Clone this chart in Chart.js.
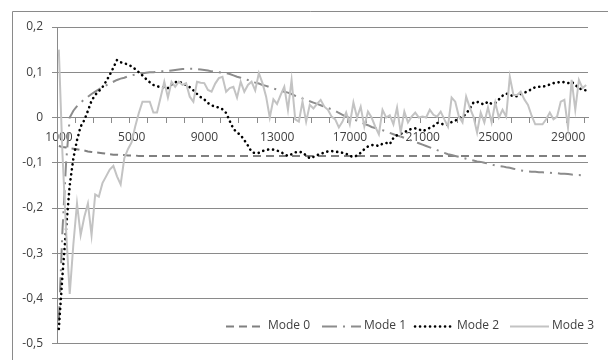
<!DOCTYPE html>
<html><head><meta charset="utf-8">
<script src="https://cdn.jsdelivr.net/npm/chart.js@4"></script>
<style>html,body{margin:0;padding:0;background:#fff;}canvas{display:block;}</style>
</head><body>
<canvas id="c" width="608" height="360"></canvas>
<script>
// categories: 1000 .. 30000 in steps of 200
const categories = [];
for (let v = 1000; v <= 30000; v += 200) categories.push(v);
const xTickLabels = ['1000','5000','9000','13000','17000','21000','25000','29000'];
const seriesNames = ['Mode 0','Mode 1','Mode 2','Mode 3'];

const mode0 = [
-0.063,-0.065,-0.066,-0.068,-0.069,-0.07,-0.072,-0.073,-0.075,-0.076,
-0.077,-0.078,-0.079,-0.08,-0.081,-0.082,-0.082,-0.083,-0.083,-0.084,
-0.084,-0.084,-0.085,-0.085,-0.085,-0.085,-0.085,-0.085,-0.085,-0.085,
-0.085,-0.085,-0.085,-0.085,-0.085,-0.085,-0.085,-0.085,-0.085,-0.085,
-0.085,-0.085,-0.085,-0.085,-0.085,-0.085,-0.085,-0.085,-0.085,-0.085,
-0.085,-0.085,-0.085,-0.085,-0.085,-0.085,-0.085,-0.085,-0.085,-0.085,
-0.085,-0.085,-0.085,-0.085,-0.085,-0.085,-0.085,-0.085,-0.085,-0.085,
-0.085,-0.085,-0.085,-0.085,-0.085,-0.085,-0.085,-0.085,-0.085,-0.085,
-0.085,-0.085,-0.085,-0.085,-0.085,-0.085,-0.085,-0.085,-0.085,-0.085,
-0.085,-0.085,-0.085,-0.085,-0.085,-0.085,-0.085,-0.085,-0.085,-0.085,
-0.085,-0.085,-0.085,-0.085,-0.085,-0.085,-0.085,-0.085,-0.085,-0.085,
-0.085,-0.085,-0.085,-0.085,-0.085,-0.085,-0.085,-0.085,-0.085,-0.085,
-0.085,-0.085,-0.085,-0.085,-0.085,-0.085,-0.085,-0.085,-0.085,-0.085,
-0.085,-0.085,-0.085,-0.085,-0.085,-0.085,-0.085,-0.085,-0.085,-0.085,
-0.085,-0.085,-0.085,-0.085,-0.085,-0.085
];
const mode1 = [
-0.45,-0.25,-0.1,0.0,0.015,0.025,0.033,0.04,0.046,0.052,
0.057,0.062,0.067,0.071,0.075,0.079,0.083,0.086,0.088,0.091,
0.093,0.095,0.097,0.098,0.099,0.1,0.1,0.101,0.102,0.102,
0.103,0.104,0.105,0.106,0.107,0.107,0.108,0.108,0.107,0.106,
0.105,0.104,0.102,0.101,0.1,0.099,0.098,0.096,0.093,0.09,
0.088,0.085,0.083,0.081,0.077,0.075,0.072,0.07,0.067,0.064,
0.062,0.059,0.057,0.055,0.052,0.048,0.045,0.042,0.039,0.036,
0.033,0.03,0.027,0.024,0.021,0.018,0.015,0.01,0.006,0.002,
-0.001,-0.004,-0.007,-0.01,-0.014,-0.017,-0.021,-0.023,-0.026,-0.028,
-0.031,-0.034,-0.037,-0.04,-0.042,-0.045,-0.048,-0.051,-0.054,-0.057,
-0.06,-0.063,-0.066,-0.069,-0.072,-0.075,-0.078,-0.081,-0.083,-0.085,
-0.087,-0.089,-0.091,-0.093,-0.095,-0.097,-0.098,-0.1,-0.102,-0.104,
-0.106,-0.107,-0.108,-0.11,-0.111,-0.113,-0.115,-0.117,-0.118,-0.119,
-0.12,-0.12,-0.121,-0.121,-0.122,-0.122,-0.123,-0.123,-0.124,-0.124,
-0.125,-0.126,-0.127,-0.127,-0.128,-0.129
];
const mode2 = [
-0.467,-0.35,-0.245,-0.15,-0.09,-0.05,-0.02,-0.006,0.015,0.037,
0.05,0.058,0.067,0.08,0.094,0.11,0.127,0.122,0.12,0.117,
0.113,0.107,0.1,0.093,0.085,0.078,0.072,0.069,0.067,0.067,
0.065,0.073,0.078,0.079,0.076,0.072,0.067,0.06,0.052,0.045,
0.04,0.032,0.027,0.024,0.022,0.018,0.01,-0.008,-0.025,-0.033,
-0.039,-0.05,-0.062,-0.076,-0.079,-0.078,-0.074,-0.072,-0.07,-0.071,
-0.073,-0.076,-0.081,-0.085,-0.081,-0.077,-0.076,-0.077,-0.084,-0.09,
-0.087,-0.083,-0.081,-0.077,-0.075,-0.074,-0.076,-0.076,-0.078,-0.08,
-0.085,-0.087,-0.084,-0.078,-0.07,-0.064,-0.061,-0.061,-0.063,-0.058,
-0.056,-0.059,-0.045,-0.039,-0.036,-0.033,-0.028,-0.025,-0.024,-0.026,
-0.03,-0.027,-0.023,-0.019,-0.012,-0.013,-0.016,-0.016,-0.01,-0.007,
-0.002,0.002,0.008,0.02,0.033,0.035,0.031,0.029,0.035,0.03,
0.032,0.04,0.048,0.053,0.05,0.047,0.047,0.052,0.055,0.058,
0.063,0.067,0.068,0.068,0.07,0.073,0.076,0.077,0.079,0.078,
0.076,0.079,0.072,0.065,0.061,0.06
];
const mode3 = [
0.15,-0.08,-0.25,-0.39,-0.28,-0.19,-0.26,-0.22,-0.19,-0.26,
-0.17,-0.175,-0.145,-0.13,-0.115,-0.107,-0.13,-0.148,-0.09,-0.07,
-0.055,-0.02,0.01,0.035,0.035,0.035,0.011,0.011,0.045,0.079,
0.044,0.079,0.068,0.079,0.072,0.076,0.046,0.035,0.079,0.077,
0.076,0.061,0.057,0.075,0.087,0.09,0.057,0.065,0.068,0.044,
0.079,0.057,0.072,0.079,0.06,0.098,0.076,0.046,0.0,0.04,
0.03,0.05,0.068,0.017,0.083,-0.004,-0.009,0.035,-0.009,0.028,
0.02,0.03,0.039,0.024,0.017,0.002,-0.004,-0.022,-0.009,0.011,
-0.015,0.033,0.0,0.024,-0.02,0.013,0.0,-0.02,-0.037,0.017,
0.0,0.005,-0.015,0.022,-0.033,0.013,-0.011,0.002,0.011,0.0,
0.002,0.0,0.017,0.006,0.002,0.013,-0.004,-0.02,0.044,0.035,
0.002,-0.011,0.046,0.022,0.002,-0.033,0.011,-0.011,0.022,-0.011,
0.033,0.0,0.017,0.002,0.09,0.05,0.05,0.057,0.04,0.028,
0.004,-0.015,-0.015,-0.015,-0.004,0.011,-0.004,0.002,0.035,0.039,
-0.022,0.083,0.017,0.083,0.065,0.072
];

const toXY = arr => arr.map((y, i) => ({x: categories[i], y}));
const GRID = '#8a8a8a';
const FONT = {family: '"Open Sans", "DejaVu Sans", sans-serif', size: 12};
const TXT = '#404040';

const framePlugin = {
  id: 'frame',
  beforeDraw(chart) {
    const ctx = chart.ctx;
    ctx.save();
    ctx.strokeStyle = '#8a8a8a';
    ctx.lineWidth = 1;
    ctx.beginPath();
    ctx.moveTo(12.5, 400); ctx.lineTo(12.5, 11.5); ctx.lineTo(700, 11.5);
    ctx.stroke();
    ctx.restore();
  }
};

const legendStarts = [226, 322, 415, 510];
const insideLegend = {
  id: 'insideLegend',
  afterDraw(chart) {
    const ctx = chart.ctx;
    const y = 326;
    chart.data.datasets.forEach((ds, i) => {
      const x = legendStarts[i];
      ctx.save();
      ctx.strokeStyle = ds.borderColor;
      ctx.lineWidth = ds.borderWidth;
      ctx.setLineDash(ds.borderDash || []);
      ctx.lineCap = ds.borderCapStyle || 'butt';
      ctx.beginPath();
      ctx.moveTo(x, y + 0.5); ctx.lineTo(x + 39, y + 0.5);
      ctx.stroke();
      ctx.setLineDash([]);
      ctx.fillStyle = TXT;
      ctx.font = '12px "Open Sans"';
      ctx.textBaseline = 'middle';
      ctx.fillText(ds.label, x + 42, y);
      ctx.restore();
    });
  }
};

new Chart(document.getElementById('c'), {
  type: 'line',
  data: {
    datasets: [
      {label: seriesNames[0], data: toXY(mode0), borderColor: '#808080', borderWidth: 2, borderDash: [8, 5], order: 3},
      {label: seriesNames[1], data: toXY(mode1), borderColor: '#8c8c8c', borderWidth: 2, borderDash: [15, 6, 2, 6], order: 2},
      {label: seriesNames[2], data: toXY(mode2), borderColor: '#000000', borderWidth: 2.6, borderDash: [0.1, 4.9], borderCapStyle: 'round', order: 1},
      {label: seriesNames[3], data: toXY(mode3), borderColor: '#c3c3c3', borderWidth: 2, order: 0}
    ]
  },
  options: {
    responsive: false,
    devicePixelRatio: 1,
    animation: false,
    events: [],
    elements: {point: {radius: 0}, line: {tension: 0}},
    layout: {padding: {left: 0, top: 27, right: 20, bottom: 12}},
    plugins: {legend: {display: false}, tooltip: {enabled: false}},
    scales: {
      x: {
        type: 'linear',
        position: {y: 0},
        min: 900, max: 30100,
        afterBuildTicks(scale) {
          const t = [];
          for (let v = 900; v <= 29900; v += 1000) t.push({value: v});
          scale.ticks = t;
        },
        ticks: {
          autoSkip: false, maxRotation: 0, padding: 8, labelOffset: 2,
          font: FONT, color: TXT,
          callback(v) { const s = String(v + 100); return xTickLabels.includes(s) ? s : ''; }
        },
        grid: {drawOnChartArea: false, drawTicks: true, tickLength: 5, color: GRID},
        border: {display: true, color: GRID, width: 1}
      },
      y: {
        min: -0.5, max: 0.2,
        afterFit(scale) { scale.width = 57; },
        ticks: {
          stepSize: 0.1, padding: 9, font: FONT, color: TXT,
          callback(v) { const r = Math.round(v * 10) / 10; return r === 0 ? '0' : r.toFixed(1).replace('.', ','); }
        },
        grid: {color: GRID, tickLength: 5},
        border: {display: true, color: GRID, width: 1}
      }
    }
  },
  plugins: [framePlugin, insideLegend]
});
</script>
</body></html>
